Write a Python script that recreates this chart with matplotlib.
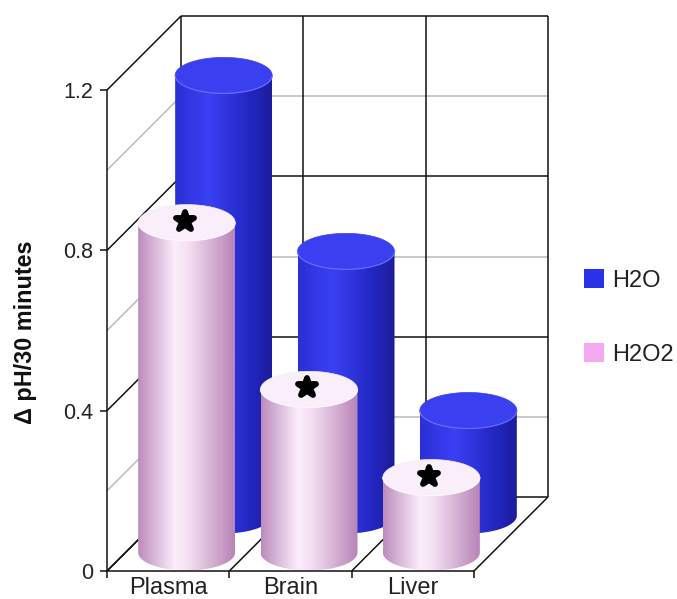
import numpy as np
import matplotlib
matplotlib.use('Agg')
import matplotlib.pyplot as plt
from matplotlib.colors import LinearSegmentedColormap
from matplotlib.markers import MarkerStyle
from matplotlib.patches import Patch, PathPatch
from matplotlib.path import Path

categories = ['Plasma', 'Brain', 'Liver']
h2o = [1.098, 0.659, 0.262]
h2o2 = [0.823, 0.407, 0.187]
y_ticks = [0, 0.4, 0.8, 1.2]
y_tick_labels = ['0', '0.4', '0.8', '1.2']

plt.rcParams['font.family'] = ['Liberation Sans', 'DejaVu Sans']

W, H = 677, 599
fig = plt.figure(figsize=(W / 100, H / 100), dpi=100)
ax = fig.add_axes([107 / W, (H - 571) / H, 367 / W, 481 / H])
ax.patch.set_visible(False)

# size of one pixel in data units, the 3d look is all done by hand
px_x = 3 / 367
px_y = 1.2 / 481
depth_x = 74 * px_x
depth_y = 74 * px_y
rx = 48.5 * px_x
ry = 18 * px_y

blue_side = LinearSegmentedColormap.from_list('blue_side', [
    (0, '#2a30d4'), (0.35, '#3a40f4'), (0.75, '#2428c4'), (1, '#1c1c9c')])
pink_side = LinearSegmentedColormap.from_list('pink_side', [
    (0, '#bd8cbd'), (0.38, '#fbeefb'), (0.52, '#f4e0f2'), (1, '#b884b6')])


def wall_line(x0, y0, x1, y1, color='#111111', lw=1.1):
    ax.plot([x0, x1], [y0, y1], color=color, lw=lw, clip_on=False, zorder=1,
            solid_capstyle='butt')


# back wall, side wall and floor
top = 1.2
for v in [0, 0.2, 0.4, 0.6, 0.8, 1.0, 1.2]:
    dark = round(v / 0.4, 6) % 1 == 0
    c = '#111111' if dark else '#bbbbbb'
    wall_line(depth_x, v + depth_y, 3 + depth_x, v + depth_y, c)
    wall_line(0, v, depth_x, v + depth_y, c)
for i in range(4):
    wall_line(i + depth_x, depth_y, i + depth_x, top + depth_y)
    wall_line(i, 0, i + depth_x, depth_y)


def cylinder(x, height, depth, cmap, top_color, rim_color, z):
    cx = x + depth * depth_x
    base = depth * depth_y
    t = np.linspace(0, np.pi, 80)
    ex = cx - rx * np.cos(t)
    lower = base - ry * np.sin(t)
    upper = base + height + ry * np.sin(t)
    rim = base + height - ry * np.sin(t)

    side = np.column_stack([np.r_[ex, ex[::-1]], np.r_[lower, rim[::-1]]])
    patch = PathPatch(Path(np.vstack([side, side[:1]])), fc='none', ec='none',
                      zorder=z, clip_on=False)
    ax.add_patch(patch)
    grad = np.linspace(0, 1, 200).reshape(1, -1)
    im = ax.imshow(grad, cmap=cmap, aspect='auto', zorder=z,
                   extent=[cx - rx, cx + rx, base - ry, base + height + ry])
    im.set_clip_path(patch)
    im.set_clip_box(fig.bbox)  # axes box would cut off whatever is above y=1.2

    ax.fill(np.r_[ex, ex[::-1]], np.r_[upper, rim[::-1]], fc=top_color,
            ec=top_color, lw=0.5, zorder=z + 0.1, clip_on=False)
    ax.plot(ex, rim, color=rim_color, lw=0.8, zorder=z + 0.2, clip_on=False)


for i in range(len(categories)):
    cylinder(i + 0.5, h2o[i], 0.75, blue_side, '#3a3ff0', '#6a6eff', 3)
for i in range(len(categories)):
    cylinder(i + 0.5, h2o2[i], 0.25, pink_side, '#f9eefa', '#fdf8fd', 4)

# significance stars on top of the H2O2 bars
star = MarkerStyle('*', joinstyle='round')
for i in range(len(categories)):
    ax.plot(i + 0.5 + 0.25 * depth_x - 2 * px_x,
            h2o2[i] + 0.25 * depth_y + 2 * px_y,
            marker=star, ms=13.5, mfc='black', mec='black', mew=4.2,
            zorder=6, clip_on=False, ls='none')

ax.set_xlim(0, 3)
ax.set_ylim(0, 1.2)
for s in ['top', 'right']:
    ax.spines[s].set_visible(False)
for s in ['left', 'bottom']:
    ax.spines[s].set_linewidth(1.1)
    ax.spines[s].set_color('#111111')
ax.set_yticks(y_ticks)
ax.set_yticklabels(y_tick_labels, fontsize=15.5, color='#222222')
ax.set_xticks([0, 1, 2, 3])
ax.set_xticklabels([])
ax.set_xticks(np.arange(len(categories)) + 0.5, categories, minor=True,
              fontsize=17, color='#222222')
ax.tick_params(axis='both', which='major', length=5, width=1.1, color='#111111')
ax.tick_params(axis='x', which='minor', length=0, pad=4.5)
ax.tick_params(axis='y', pad=5)

ax.set_ylabel('Δ pH/30 minutes', fontsize=16.8, fontweight='bold', color='#111111')
ax.yaxis.set_label_coords(-0.19, 0.497)

handles = [Patch(fc='#2a32e8', ec='none', label='H2O'),
           Patch(fc='#f4a8f0', ec='none', label='H2O2')]
fig.legend(handles=handles, loc='center left', frameon=False, fontsize=17,
           bbox_to_anchor=(563 / W, (H - 317.5) / H), handlelength=0.85,
           handleheight=0.85, handletextpad=0.35, labelspacing=2.2,
           labelcolor='#222222')

fig.savefig('out.png', dpi=100)
